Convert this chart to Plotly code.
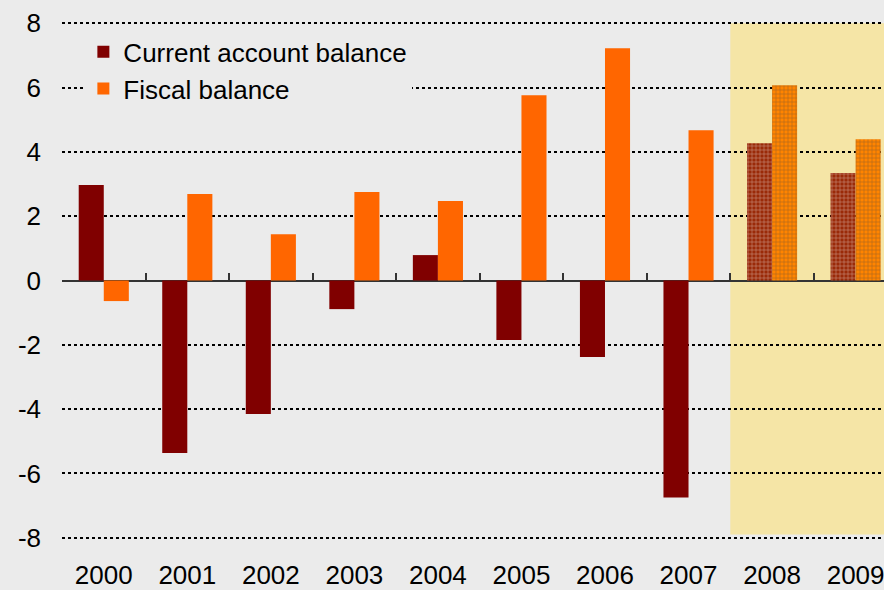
import plotly.graph_objects as go

years = ["2000", "2001", "2002", "2003", "2004", "2005", "2006", "2007", "2008", "2009"]
current_account = [2.97, -5.36, -4.15, -0.89, 0.79, -1.85, -2.38, -6.75, 4.27, 3.34]
fiscal_balance = [-0.64, 2.69, 1.44, 2.75, 2.47, 5.76, 7.22, 4.67, 6.07, 4.39]
forecast = [False] * 8 + [True, True]
y_ticks = [-8, -6, -4, -2, 0, 2, 4, 6, 8]

BG = "#EBEBEB"
FONT = "Liberation Sans, Arial, sans-serif"

ca_colors = ["#9A2A08" if f else "#800000" for f in forecast]
fb_colors = ["#FF8400" if f else "#FF6600" for f in forecast]
shapes_pat = ["+" if f else "" for f in forecast]

fig = go.Figure()
fig.add_trace(go.Bar(
    x=years, y=current_account, name="Current account balance",
    marker=dict(color=ca_colors, line=dict(width=0),
                pattern=dict(shape=shapes_pat, fgcolor="#C8602A", size=4, solidity=0.25)),
))
fig.add_trace(go.Bar(
    x=years, y=fiscal_balance, name="Fiscal balance",
    marker=dict(color=fb_colors, line=dict(width=0),
                pattern=dict(shape=shapes_pat, fgcolor="#FFA040", size=4, solidity=0.25)),
))
# helper trace for boundary tick axis
fig.add_trace(go.Scatter(x=[-0.5, 9.34], y=[0, 0], xaxis="x2", mode="lines",
                         line=dict(width=0), showlegend=False, hoverinfo="skip"))

# forecast shading
fig.add_shape(type="rect", xref="x", yref="y", x0=7.5, x1=10, y0=-7.9, y1=8,
              fillcolor="#F5E5A6", line=dict(width=0), layer="below")

fig.update_layout(
    width=884, height=590,
    margin=dict(l=62, r=0, t=20, b=49, autoexpand=False),
    paper_bgcolor=BG, plot_bgcolor=BG,
    font=dict(family=FONT, color="#000000", size=26),
    barmode="group", bargap=0.4, bargroupgap=0,
    showlegend=True,
    legend=dict(x=0.026, y=0.984, xanchor="left", yanchor="top",
                bgcolor=BG, font=dict(size=26, family=FONT),
                tracegroupgap=0, itemsizing="constant"),
    xaxis=dict(type="category", range=[-0.5, 9.34], showgrid=False, zeroline=False,
               ticks="", showline=False, tickfont=dict(size=26),
               ticklabelstandoff=16, automargin=False),
    xaxis2=dict(overlaying="x", anchor="free", position=0.5, range=[-0.5, 9.34],
                tickvals=[i - 0.5 for i in range(11)], ticks="inside", ticklen=8,
                tickwidth=2, tickcolor="#333333", showticklabels=False,
                showgrid=False, zeroline=False, showline=False),
    yaxis=dict(range=[-8.1, 8.1], tickvals=y_ticks, ticktext=[str(v) for v in y_ticks],
               showgrid=True, gridcolor="#000000", gridwidth=2, griddash="dot",
               zeroline=True, zerolinecolor="#333333", zerolinewidth=2,
               ticks="", showline=False, tickfont=dict(size=26),
               ticklabelstandoff=20, automargin=False),
)

fig.write_html("out.html")
